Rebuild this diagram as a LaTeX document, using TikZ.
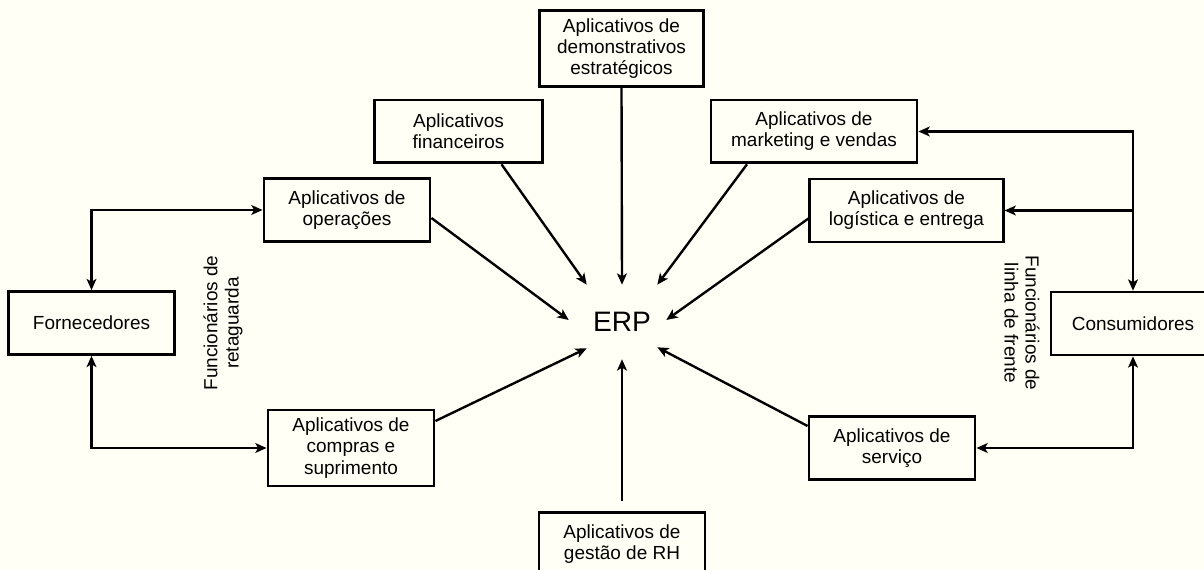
\documentclass[tikz,border=0pt]{standalone}
\usepackage{fontspec}
\setmainfont{Liberation Sans}
\usetikzlibrary{arrows.meta}
\definecolor{papel}{RGB}{255,255,245}

\begin{document}
\begin{tikzpicture}[x=0.025cm, y=-0.025cm,
  caixa/.style={draw, line width=2pt, align=center, inner sep=0pt,
    font=\fontsize{13.5}{15}\selectfont, minimum height=1.57cm},
  rotulo/.style={align=center, font=\fontsize{13.5}{15}\selectfont},
  seta/.style={line width=1.7pt, -{Stealth[length=8pt, width=7pt, inset=2pt]}},
  seta2/.style={line width=1.7pt, {Stealth[length=8pt, width=7pt, inset=2pt]}-{Stealth[length=8pt, width=7pt, inset=2pt]}}]

% paper
\useasboundingbox (0,0) rectangle (1204,570);
\fill[papel] (0,0) rectangle (1204,570);

% center
\node[font=\fontsize{20}{22}\selectfont, minimum width=1.75cm, minimum height=1.85cm, inner sep=0pt] (erp) at (622,322) {ERP};

% application boxes
\node[caixa, minimum width=4.08cm, minimum height=1.88cm] (dem) at (621.5,48.5) {Aplicativos de\\demonstrativos\\estratégicos};
\node[caixa, minimum width=4.18cm] (fin) at (458.5,131.5) {Aplicativos\\financeiros};
\node[caixa, minimum width=5.15cm] (mkt) at (814,131.5) {Aplicativos de\\marketing e vendas};
\node[caixa, minimum width=4.15cm] (ope) at (347,210) {Aplicativos de\\operações};
\node[caixa, minimum width=4.83cm] (log) at (906.5,210.5) {Aplicativos de\\logística e entrega};
\node[caixa, minimum width=4.15cm, minimum height=1.9cm] (comp) at (351,448) {Aplicativos de\\compras e\\suprimento};
\node[caixa, minimum width=4.15cm] (serv) at (892,448) {Aplicativos de\\serviço};
\node[caixa, minimum width=4.15cm] (rh) at (622,544) {Aplicativos de\\gestão de RH};

% outside parties
\node[caixa, minimum width=4.13cm] (forn) at (91.5,323) {Fornecedores};
\node[caixa, minimum width=4.1cm] (cons) at (1133,323.5) {Consumidores};

% staff labels
\node[rotulo, rotate=90] (retag) at (223,323) {Funcionários de\\retaguarda};
\node[rotulo, rotate=-90] (frente) at (1022,323) {Funcionários de\\linha de frente};

% arrows into ERP
\draw[seta] (dem.south) -- (erp.north);
\draw[seta] ([shift={(43,0)}]fin.south) -- (erp.north west);
\draw[seta] ([shift={(-67,0)}]mkt.south) -- (erp.north east);
\draw[seta] ([shift={(0,8)}]ope.east) -- ([shift={(-18,-2)}]erp.west);
\draw[seta] ([shift={(0,8)}]log.west) -- ([shift={(9,-2)}]erp.east);
\draw[seta] ([shift={(0,-27)}]comp.east) -- ([shift={(0,-11)}]erp.south west);
\draw[seta] ([shift={(0,-22)}]serv.west) -- ([shift={(0,-12)}]erp.south east);
\draw[seta] ([shift={(0,-10)}]rh.north) -- (erp.south);

% suppliers side
\draw[seta2] (forn.north) |- (ope.west);
\draw[seta2] (forn.south) |- (comp.west);

% customers side
\draw[seta2] (mkt.east) -| (cons.north);
\coordinate (ramo) at (cons.north |- log.east);
\draw[seta] (ramo) -- (log.east);
\draw[seta2] (serv.east) -| (cons.south);

\end{tikzpicture}
\end{document}
